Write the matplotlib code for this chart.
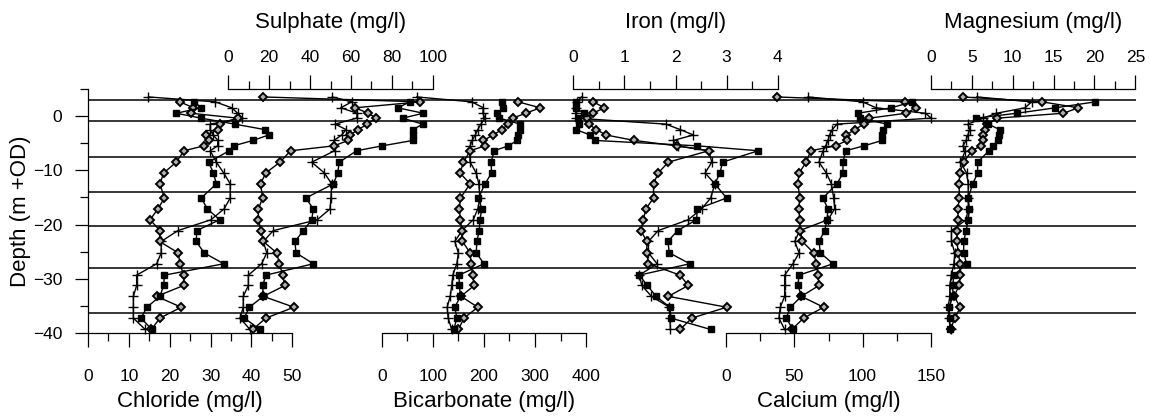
import numpy as np
import matplotlib.pyplot as plt

plt.rcParams['font.family'] = ['Liberation Sans', 'DejaVu Sans']

nan = np.nan

# sample depths (m +OD), shared by the three profiles
depth = [3.5, 2.6, 1.5, 0.5, -0.4, -1.5, -2.5, -3.5, -4.5, -5.5, -6.4,
         -8.5, -10.5, -12.5, -15.1, -17.1, -19.1, -21.1, -23.1, -25.2, -27.2,
         -29.3, -31.2, -33.2, -35.2, -37.2, -39.3]

# horizontal boundaries drawn across all panels
boundaries = [3.0, -1.0, -7.5, -14.0, -20.2, -27.9, -36.3]

chloride_plus = [14.8, 31.1, 35.2, 36.6, 37.7, 29.9, 29.9, 30.6, 31.8, 31.7, 29.9,
                 31.4, 33.2, 34.8, 34.8, 33.3, 30.1, 22.0, 17.9, 17.9, 16.8,
                 11.9, 11.9, 11.1, 11.1, 11.1, 14.0]
chloride_diamond = [nan, 22.5, 25.8, 25.2, 36.6, 32.2, 31.9, 28.9, 29.7, 28.4, 23.5,
                    21.6, 18.5, 17.6, 18.7, 17.1, 15.2, 17.6, 17.5, 22.1, 22.5,
                    23.4, 23.4, 16.8, 22.8, 17.6, 15.5]
chloride_square = [nan, 26.0, 27.7, 21.6, 27.7, 35.9, 43.2, 44.2, 40.4, 35.6, 34.6,
                   29.5, 30.7, 31.4, 27.7, 29.2, 32.2, 26.6, 26.5, 28.4, 33.2,
                   18.7, 18.5, 17.6, 14.4, 13.0, 15.6]

sulphate_plus = [50.9, 60.4, 55.0, 63.1, 62.8, 52.2, 57.6, 55.5, 51.7, 51.7, 52.0,
                 40.8, 47.0, 50.6, 50.2, 49.8, 43.5, 22.0, 17.1, 18.8, 16.3,
                 9.8, 9.8, 7.3, 7.3, 5.7, 10.6]
sulphate_diamond = [17.1, 93.8, 62.0, 68.5, 72.3, 68.0, 63.6, 59.5, 58.7, 51.7, 30.5,
                    25.3, 18.3, 15.8, 16.8, 14.7, 14.7, 16.0, 17.1, 23.7, 25.0,
                    26.6, 27.7, 17.1, 32.1, 18.4, 11.9]
sulphate_square = [nan, 88.9, 82.9, 95.4, 85.3, 95.1, 90.4, 90.4, 90.4, 75.3, 62.8,
                   54.3, 53.5, 51.4, 37.9, 41.6, 40.8, 36.7, 32.6, 33.1, 41.6,
                   18.4, 16.8, 17.1, 10.3, 7.8, 15.5]

bicarbonate_plus = [68.5, 176, 199, 198, 202, 194, 188, 183, 177, 173, 172,
                    173, 185, 190, 192, 188, 179, 157, 143, 150, 147,
                    139, 137, 134, 128, 130, 137]
bicarbonate_diamond = [nan, 267, 310, 282, 256, 248, 235, 218, 199, 202, 173,
                       160, 153, 173, 154, 152, 154, 157, 158, 173, 175,
                       178, 181, 155, 188, 161, 150]
bicarbonate_square = [nan, 235, 238, 226, 230, 271, 271, 267, 265, 248, 220,
                      214, 215, 202, 189, 196, 192, 191, 186, 185, 200,
                      151, 152, 154, 143, 147, 141]

iron_plus = [0.16, 0.07, 0.05, 0.05, 0.05, 1.81, 2.09, 2.35, 1.96, 2.04, 2.65,
             2.71, 2.58, 2.77, 2.69, 2.51, 2.25, 1.66, 1.47, 1.47, 1.64,
             1.29, 1.34, 1.53, 1.88, 1.89, 1.90]
iron_diamond = [nan, 0.39, 0.61, 0.38, 0.26, 0.30, 0.45, 0.64, 1.19, 2.02, 2.65,
                1.86, 1.66, 1.57, 1.57, 1.42, 1.37, 1.32, 1.44, 1.44, 1.47,
                2.09, 2.25, 1.86, 3.00, 2.32, 2.09]
iron_square = [nan, 0.05, 0.05, 0.20, 0.10, 0.12, 0.05, 0.33, 0.42, 2.43, 3.62,
               2.92, 2.87, 2.77, 3.00, 2.43, 2.41, 2.04, 1.85, 1.88, 2.28,
               1.29, 1.45, 1.62, 1.89, 1.91, 2.69]

calcium_plus = [59.9, 100, 110, 146, 150.5, 81.2, 77.8, 75.8, 74.6, 72.9, 71.0,
                68.0, 73.4, 77.1, 78.8, 79.5, 74.6, 53.8, 50.2, 53.4, 48.9,
                42.8, 42.8, 42.8, 39.6, 38.6, 42.8]
calcium_diamond = [37.4, 131, 139, 132, 105, 101, 94.2, 88.1, 88.6, 80.2, 61.9,
                   58.7, 53.3, 52.6, 53.8, 53.3, 53.8, 54.3, 55.8, 64.1, 66.1,
                   67.3, 68.0, 55.0, 71.4, 56.8, 48.0]
calcium_square = [nan, 136.5, 121, 96.6, 97.9, 118, 115, 114.5, 114.5, 101, 87.6,
                  85.6, 85.6, 81.2, 70.9, 74.6, 73.9, 72.2, 68.0, 69.0, 78.3,
                  53.3, 52.6, 55.1, 47.0, 44.0, 48.9]

magnesium_plus = [5.6, 12.3, 11.5, 8.0, 6.4, 4.5, 4.75, 4.5, 4.3, 3.9, 4.2,
                  3.6, 4.35, 4.55, 4.55, 4.55, 4.3, 2.5, 2.5, 2.9, 2.8,
                  2.5, 2.3, 2.3, 2.1, 2.2, 2.4]
magnesium_diamond = [3.9, 13.6, 18.0, 16.2, 8.1, 6.9, 6.6, 6.4, 6.4, 6.1, 5.0,
                     4.0, 3.5, 3.45, 3.45, 3.3, 3.3, 3.2, 3.2, 3.3, 3.6,
                     3.6, 3.45, 2.8, 3.6, 2.9, 2.4]
magnesium_square = [nan, 20.1, 15.2, 10.5, 5.5, 7.0, 8.4, 8.3, 8.2, 7.6, 7.1,
                    5.7, 5.7, 5.1, 4.55, 4.7, 4.55, 4.3, 4.0, 4.0, 4.35,
                    2.8, 2.65, 2.7, 2.2, 2.3, 2.3]

# title, (plus, diamond, square), axis max, major step, axis side
panels = [
    ("Chloride (mg/l)", (chloride_plus, chloride_diamond, chloride_square), 50, 10, "bottom"),
    ("Sulphate (mg/l)", (sulphate_plus, sulphate_diamond, sulphate_square), 100, 20, "top"),
    ("Bicarbonate (mg/l)", (bicarbonate_plus, bicarbonate_diamond, bicarbonate_square), 400, 100, "bottom"),
    ("Iron (mg/l)", (iron_plus, iron_diamond, iron_square), 4, 1, "top"),
    ("Calcium (mg/l)", (calcium_plus, calcium_diamond, calcium_square), 150, 50, "bottom"),
    ("Magnesium (mg/l)", (magnesium_plus, magnesium_diamond, magnesium_square), 25, 5, "top"),
]
# left edge of each panel's scale, as a fraction of the plot width
starts = [0.0, 0.1339, 0.2803, 0.4631, 0.6091, 0.8044]
span = 0.195

styles = [
    dict(marker="+", ms=6.5, mew=1.0),
    dict(marker="D", ms=3.6, mfc="#b0b0b0", mec="black", mew=1.4),
    dict(marker="s", ms=5.0, mfc="black", mec="black"),
]

fig = plt.figure(figsize=(11.5, 4.19), dpi=100)
rect = [88 / 1150, 1 - 333.3 / 419, 1048 / 1150, 244.5 / 419]

base = fig.add_axes(rect)
base.set_xlim(0, 1)
base.set_ylim(-40, 5)
for d in boundaries:
    base.axhline(d, color="black", lw=1.1, zorder=1)
for side in ["top", "right", "bottom"]:
    base.spines[side].set_visible(False)
base.spines["left"].set_linewidth(0.9)
base.set_xticks([])
base.set_yticks([-40, -30, -20, -10, 0])
base.set_yticks([-35, -25, -15, -5, 5], minor=True)
base.tick_params(axis="y", which="major", direction="out", length=9.5, width=0.9,
                 pad=9, labelsize=12.5)
base.tick_params(axis="y", which="minor", direction="out", length=5.5, width=0.9)
base.set_ylabel("Depth (m +OD)", fontsize=16, va="center")
base.yaxis.set_label_coords(-0.064, 0.5)

for (title, series, vmax, step, side), x0 in zip(panels, starts):
    ax = fig.add_axes(rect, facecolor="none")
    ax.set_xlim(-x0 / span * vmax, (1 - x0) / span * vmax)
    ax.set_ylim(-40, 5)
    for s in ["top", "right", "bottom", "left"]:
        ax.spines[s].set_visible(False)
    ax.spines[side].set_visible(True)
    ax.spines[side].set_bounds(0, vmax)
    ax.spines[side].set_linewidth(0.9)
    ax.set_yticks([])
    ax.xaxis.set_ticks_position(side)
    ax.set_xticks(np.arange(0, vmax + step / 2, step))
    ax.set_xticks(np.arange(step / 2, vmax, step), minor=True)
    ax.set_xticklabels([f"{v:g}" for v in np.arange(0, vmax + step / 2, step)])
    pad = 15.5 if side == "bottom" else 6.5
    ax.tick_params(axis="x", which="major", direction="out", length=10.3, width=0.9,
                   pad=pad, labelsize=12.5)
    ax.tick_params(axis="x", which="minor", direction="out", length=5.8, width=0.9)

    for vals, st in zip(series, styles):
        ax.plot(vals, depth, color="black", lw=1.0, clip_on=False, zorder=3, **st)

    if side == "bottom":
        ax.annotate(title, xy=(vmax / 2, 0), xycoords=("data", "axes fraction"),
                    xytext=(0, -49), textcoords="offset points",
                    ha="center", va="center", fontsize=16)
    else:
        ax.annotate(title, xy=(vmax / 2, 1), xycoords=("data", "axes fraction"),
                    xytext=(0, 47.5), textcoords="offset points",
                    ha="center", va="center", fontsize=16)

fig.savefig("out.png", dpi=100)
